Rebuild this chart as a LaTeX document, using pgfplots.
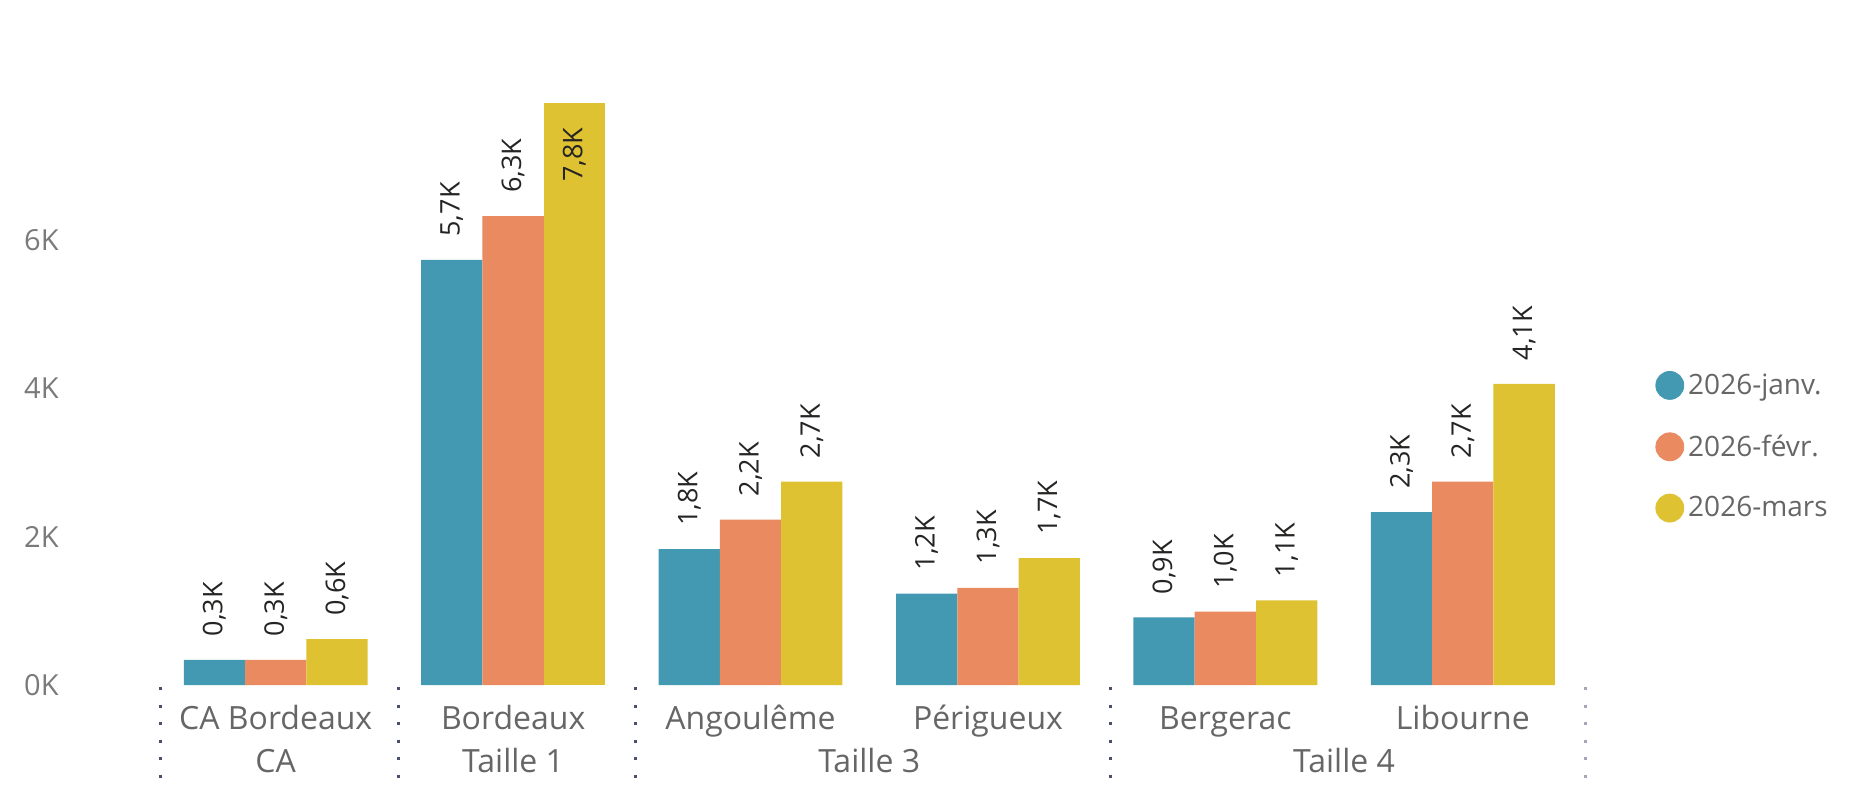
\documentclass[border=0pt]{standalone}
\usepackage{fontspec}
\setmainfont{Open Sans}
\usepackage{pgfplots}
\pgfplotsset{compat=1.18}

\definecolor{cJan}{HTML}{4399B2}
\definecolor{cFev}{HTML}{EA8A61}
\definecolor{cMar}{HTML}{DFC232}
\definecolor{txtgray}{HTML}{666666}
\definecolor{tickgray}{HTML}{7A7A7A}
\definecolor{lblcol}{HTML}{252423}
\definecolor{sepcol}{HTML}{4A4F6E}

\begin{document}
\begin{tikzpicture}
\useasboundingbox (0,0) rectangle (930.5pt,394pt);
\begin{axis}[
  at={(78.5pt,51.5pt)}, anchor=south west,
  scale only axis, width=712.25pt, height=296.8pt,
  xmin=-0.5, xmax=5.5, ymin=0, ymax=8,
  clip=false,
  axis line style={draw=none},
  major tick length=0pt,
  xtick={0,1,2,3,4,5},
  xticklabels={CA Bordeaux,Bordeaux,Angoulême,Périgueux,Bergerac,Libourne},
  xticklabel style={anchor=base, yshift=-22pt, font=\fontsize{16}{19}\selectfont, text=txtgray},
  ytick={0,2,4,6},
  yticklabels={0K,2K,4K,6K},
  yticklabel style={anchor=east, inner sep=0pt, xshift=-49pt, font=\fontsize{14.5}{17}\selectfont, text=tickgray},
  ybar, bar width=30.65pt,
  nodes near coords={\pgfmathprintnumber[fixed,fixed zerofill,precision=1,use comma,assume math mode=true]{\pgfplotspointmeta}K},
  every node near coord/.append style={rotate=90, anchor=west, inner xsep=11.5pt, inner ysep=0pt, font=\fontsize{13.5}{16}\selectfont, text=lblcol},
  legend style={at={(1.0516,0.532)}, anchor=north west, draw=none, fill=none, inner sep=0pt,
    row sep=14.7pt, font=\fontsize{14}{17}\selectfont, text=txtgray},
  legend cell align=left,
]
\addplot[forget plot, fill=cJan, draw=none, bar shift=-30.65pt] coordinates {(0,0.34) (1,5.73) (2,1.83) (3,1.23) (4,0.91) (5,2.33)};
\addplot[forget plot, fill=cFev, draw=none, bar shift=0pt] coordinates {(0,0.34) (1,6.32) (2,2.23) (3,1.31) (4,0.99) (5,2.74)};
\addplot[forget plot, fill=cMar, draw=none, bar shift=30.65pt] coordinates {(0,0.62) (2,2.74) (3,1.71) (4,1.14) (5,4.06)};
\addplot[forget plot, fill=cMar, draw=none, bar shift=30.65pt,
  every node near coord/.append style={anchor=east, inner xsep=12pt}] coordinates {(1,7.84)};

\addlegendimage{legend image code/.code={\fill[cJan] (7pt,0pt) circle (7pt);}}
\addlegendentry{2026-janv.}
\addlegendimage{legend image code/.code={\fill[cFev] (7pt,0pt) circle (7pt);}}
\addlegendentry{2026-févr.}
\addlegendimage{legend image code/.code={\fill[cMar] (7pt,0pt) circle (7pt);}}
\addlegendentry{2026-mars}

\draw[sepcol, line width=1.5pt, dash pattern=on 1.5pt off 7.25pt] ([xshift=2pt,yshift=-1pt]axis cs:-0.5,0) -- ([xshift=2pt,yshift=-52pt]axis cs:-0.5,0);
\draw[sepcol, line width=1.5pt, dash pattern=on 1.5pt off 7.25pt] ([xshift=2pt,yshift=-1pt]axis cs:0.5,0) -- ([xshift=2pt,yshift=-52pt]axis cs:0.5,0);
\draw[sepcol, line width=1.5pt, dash pattern=on 1.5pt off 7.25pt] ([xshift=2pt,yshift=-1pt]axis cs:1.5,0) -- ([xshift=2pt,yshift=-52pt]axis cs:1.5,0);
\draw[sepcol, line width=1.5pt, dash pattern=on 1.5pt off 7.25pt] ([xshift=2pt,yshift=-1pt]axis cs:3.5,0) -- ([xshift=2pt,yshift=-52pt]axis cs:3.5,0);
\draw[sepcol!50, line width=1.5pt, dash pattern=on 1.5pt off 7.25pt] ([xshift=2pt,yshift=-1pt]axis cs:5.5,0) -- ([xshift=2pt,yshift=-52pt]axis cs:5.5,0);

\node[anchor=base, yshift=-43.5pt, font=\fontsize{16}{19}\selectfont, text=txtgray] at (axis cs:0,0) {CA};
\node[anchor=base, yshift=-43.5pt, font=\fontsize{16}{19}\selectfont, text=txtgray] at (axis cs:1,0) {Taille 1};
\node[anchor=base, yshift=-43.5pt, font=\fontsize{16}{19}\selectfont, text=txtgray] at (axis cs:2.5,0) {Taille 3};
\node[anchor=base, yshift=-43.5pt, font=\fontsize{16}{19}\selectfont, text=txtgray] at (axis cs:4.5,0) {Taille 4};
\end{axis}
\end{tikzpicture}
\end{document}
